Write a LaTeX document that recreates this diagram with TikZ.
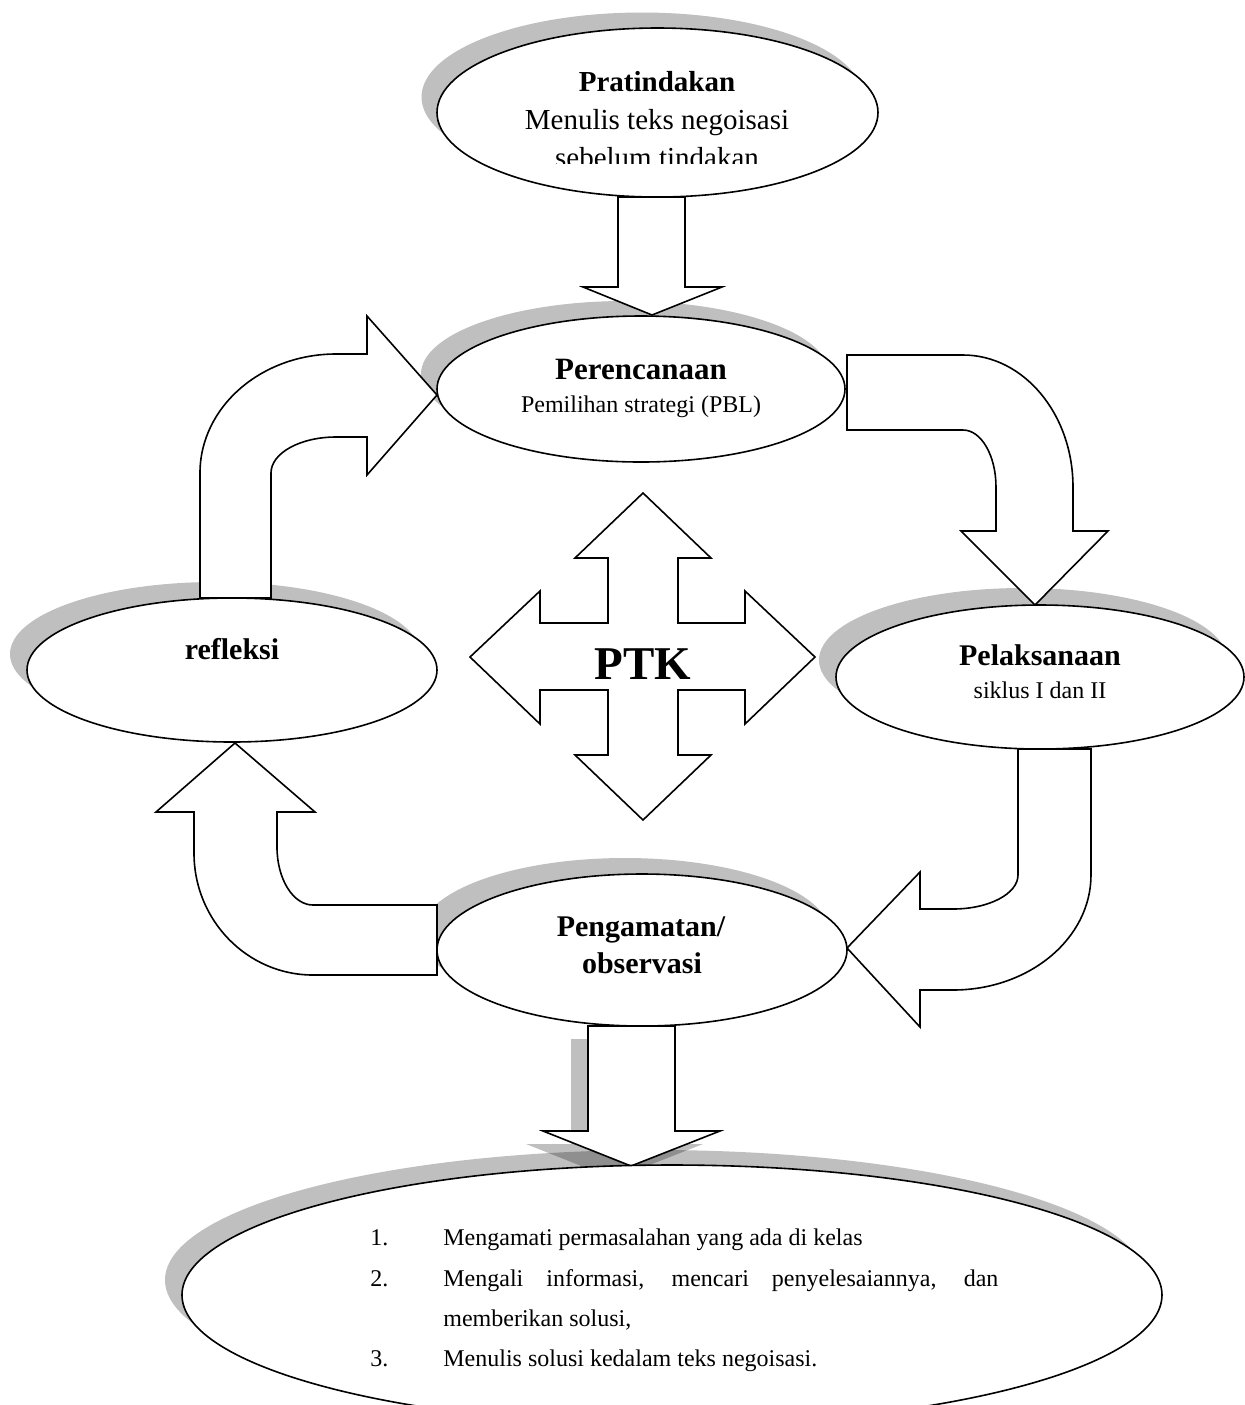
\documentclass[tikz,border=0pt]{standalone}
\usepackage{fontspec}
\setmainfont{Liberation Serif}
\usetikzlibrary{shapes.geometric}
\definecolor{shadowgray}{RGB}{191,191,191}
\begin{document}
\begin{tikzpicture}[x=0.5pt,y=-0.5pt,
 ell/.style={ellipse, draw, line width=0.8pt, fill=white, inner sep=0pt},
 blk/.style={draw, line width=0.8pt, fill=white, line join=miter},
 shd/.style={fill=shadowgray},
 ttl/.style={font=\fontsize{15pt}{18pt}\selectfont\bfseries, anchor=base, inner sep=0pt},
 ttltop/.style={font=\fontsize{14.5pt}{17pt}\selectfont\bfseries, anchor=base, inner sep=0pt},
 subtop/.style={font=\fontsize{14.5pt}{17pt}\selectfont, anchor=base, inner sep=0pt},
 sub/.style={font=\fontsize{12pt}{14pt}\selectfont, anchor=base, inner sep=0pt},
 lst/.style={font=\fontsize{12pt}{14pt}\selectfont, anchor=base west, inner sep=0pt}]
\useasboundingbox (0,0) rectangle (1245,1405);

% ellipse shadows
\fill[shd] (642,97) ellipse [x radius=220.5, y radius=84.5];
\fill[shd] (625,374) ellipse [x radius=204, y radius=73];
\fill[shd] (215,654) ellipse [x radius=205, y radius=72];
\fill[shd] (1023,660) ellipse [x radius=204, y radius=72];
\fill[shd] (625,934) ellipse [x radius=205, y radius=76];
\fill[shd] (655,1280) ellipse [x radius=490, y radius=130];

% shadow of the bottom arrow
\fill[black, opacity=0.25] (571,1039) -- (571,1144) -- (526,1144) -- (614,1179) -- (703,1144) -- (658,1144) -- (658,1039) -- cycle;

% block arrows
\draw[blk] (618,197) -- (618,287) -- (583,287) -- (652,315) -- (722,287) -- (685,287) -- (685,197) -- cycle;

\draw[blk] (200,598) -- (200,473) arc[start angle=180, end angle=270, x radius=136, y radius=119]
  -- (367,354) -- (367,316) -- (437,395) -- (367,475) -- (367,437) -- (336,437)
  arc[start angle=270, end angle=180, x radius=65, y radius=36] -- (271,598) -- cycle;

\draw[blk] (847,355) -- (963,355) arc[start angle=270, end angle=360, x radius=110, y radius=132]
  -- (1073,531) -- (1108,531) -- (1035,605) -- (961,531) -- (996,531) -- (996,487)
  arc[start angle=0, end angle=-90, x radius=33, y radius=57] -- (847,430) -- cycle;

\draw[blk] (1018,749) -- (1018,875) arc[start angle=0, end angle=90, x radius=65, y radius=34]
  -- (920,909) -- (920,872) -- (847,948) -- (920,1027) -- (920,990) -- (953,990)
  arc[start angle=90, end angle=0, x radius=138, y radius=115] -- (1091,749) -- cycle;

\draw[blk] (437,905) -- (313,905) arc[start angle=90, end angle=180, x radius=36, y radius=58]
  -- (277,812) -- (315,812) -- (235,743) -- (156,812) -- (194,812) -- (194,853)
  arc[start angle=180, end angle=90, x radius=119, y radius=122] -- (437,975) -- cycle;

\draw[blk] (588,1026) -- (588,1131) -- (543,1131) -- (631,1166) -- (720,1131) -- (675,1131) -- (675,1026) -- cycle;

\draw[blk] (643,493) -- (711,558) -- (678,558) -- (678,623) -- (745,623) -- (745,591) -- (815,657)
  -- (745,724) -- (745,690) -- (678,690) -- (678,755) -- (711,755) -- (643,820) -- (575,755)
  -- (608,755) -- (608,690) -- (540,690) -- (540,724) -- (470,657) -- (540,591) -- (540,623)
  -- (608,623) -- (608,558) -- (575,558) -- cycle;

% ellipses
\node[ell, minimum width=441*0.5pt, minimum height=169*0.5pt] (pra) at (657.5,112.5) {};
\node[ell, minimum width=408*0.5pt, minimum height=146*0.5pt] (per) at (641,389) {};
\node[ell, minimum width=410*0.5pt, minimum height=144*0.5pt] (ref) at (232,670) {};
\node[ell, minimum width=408*0.5pt, minimum height=144*0.5pt] (pel) at (1040,677) {};
\node[ell, minimum width=410*0.5pt, minimum height=152*0.5pt] (pen) at (642,950) {};
\node[ell, minimum width=980*0.5pt, minimum height=260*0.5pt] (bot) at (672,1295) {};

% texts
\node[ttltop] (t1) at (657,91) {Pratindakan};
\node[subtop] (t2) at (657,129) {Menulis teks negoisasi};
\begin{scope}
\clip (400,135) rectangle (900,163);
\node[subtop] (t3) at (657,167) {sebelum tindakan};
\end{scope}

\node[ttl, font=\fontsize{15.5pt}{18pt}\selectfont\bfseries] (t4) at (641,379) {Perencanaan};
\node[sub] (t5) at (641,412) {Pemilihan strategi (PBL)};

\node[ttl] (t6) at (1040,665) {Pelaksanaan};
\node[sub] (t7) at (1040,698) {siklus I dan II};

\node[ttl] (t8) at (232,659) {refleksi};

\node[ttl] (t9) at (641,936) {Pengamatan/};
\node[ttl] (t10) at (642,973) {observasi};

\node[ttl, font=\fontsize{23.5pt}{28pt}\selectfont\bfseries] (ptk) at (643,679) {PTK};

\node[lst] (n1) at (370,1245) {1.};
\node[lst] (l1) at (443,1245) {Mengamati permasalahan yang ada di kelas};
\node[lst] (n2) at (370,1286) {2.};
\node[lst] (l2) at (443,1286) {\makebox[277.5pt][s]{Mengali informasi, mencari penyelesaiannya, dan}};
\node[lst] (l3) at (443,1326) {memberikan solusi,};
\node[lst] (n3) at (370,1366) {3.};
\node[lst] (l4) at (443,1366) {Menulis solusi kedalam teks negoisasi.};
\end{tikzpicture}
\end{document}
